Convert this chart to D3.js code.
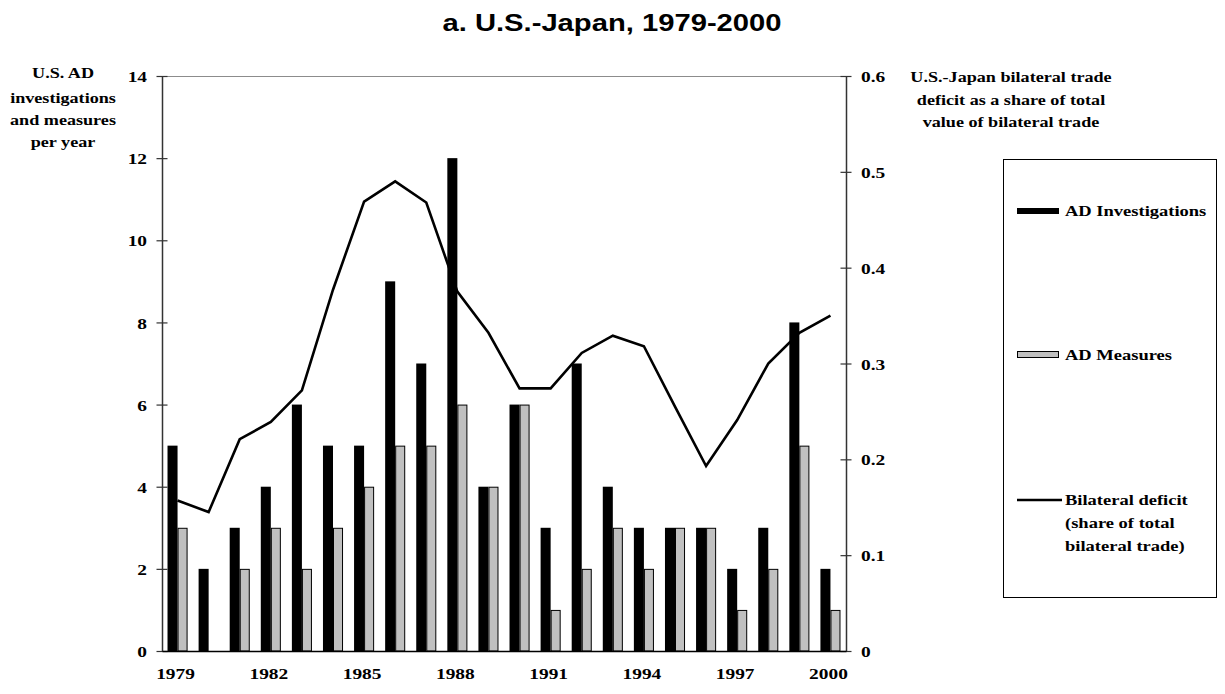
<!DOCTYPE html>
<html>
<head>
<meta charset="utf-8">
<script src="https://cdn.jsdelivr.net/npm/d3@7"></script>
<style>
  body { margin: 0; background: #fff; }
  svg { display: block; }
</style>
</head>
<body>
<div id="chart"></div>
<script>

// DATA

var years = [1979, 1980, 1981, 1982, 1983, 1984, 1985, 1986, 1987, 1988, 1989,
             1990, 1991, 1992, 1993, 1994, 1995, 1996, 1997, 1998, 1999, 2000];
var yearLabels = [1979, 1982, 1985, 1988, 1991, 1994, 1997, 2000];
var investigations = [5, 2, 3, 4, 6, 5, 5, 9, 7, 12, 4, 6, 3, 7, 4, 3, 3, 3, 2, 3, 8, 2];
var measures = [3, 0, 2, 3, 2, 3, 4, 5, 5, 6, 4, 6, 1, 2, 3, 2, 3, 3, 1, 2, 5, 1];
var deficitShare = [0.157, 0.145, 0.221, 0.239, 0.272, 0.377, 0.469, 0.490, 0.468, 0.375, 0.332,
                    0.274, 0.274, 0.311, 0.329, 0.318, 0.255, 0.193, 0.241, 0.300, 0.332, 0.350];
var leftTicks = [0, 2, 4, 6, 8, 10, 12, 14];
var rightTicks = [0, 0.1, 0.2, 0.3, 0.4, 0.5, 0.6];
var seriesNames = ['AD Investigations', 'AD Measures'];

var W = 1225, H = 694;
var plot = { left: 162, right: 846, top: 76, bottom: 651 };
var SERIF = "'Liberation Serif', 'Times New Roman', serif";
var SX = 1.25; // the reference text is drawn horizontally stretched

var svg = d3.select('#chart')
  .append('svg')
    .attr('width', W)
    .attr('height', H);

// SCALES

var x = d3.scaleBand()
  .domain(years)
  .range([plot.left, plot.right])
  .padding(0);

var xInner = d3.scaleBand()
  .domain(seriesNames)
  .range([0, x.bandwidth()])
  .paddingInner(0)
  .paddingOuter(0.55);

var yL = d3.scaleLinear().domain([0, 14]).range([plot.bottom, plot.top]);
var yR = d3.scaleLinear().domain([0, 0.6]).range([plot.bottom, plot.top]);

function stretched(g, px, py, str, anchor) {
  return g.append('text')
    .attr('transform', 'translate(' + px + ',' + py + ') scale(' + SX + ',1)')
    .attr('text-anchor', anchor || 'middle')
    .text(str);
}

// TITLE

svg.append('text')
  .attr('transform', 'translate(612,31) scale(1.27,1)')
  .attr('text-anchor', 'middle')
  .attr('font-family', "'Liberation Sans', Arial, sans-serif")
  .attr('font-weight', 'bold')
  .attr('font-size', 23)
  .text('a. U.S.-Japan, 1979-2000');

// PLOT FRAME

svg.append('line')
  .attr('x1', plot.left).attr('x2', plot.right)
  .attr('y1', plot.top + 0.5).attr('y2', plot.top + 0.5)
  .attr('stroke', '#8c8c8c')
  .attr('stroke-width', 1);

// BARS

var bars = svg.append('g');

bars.selectAll('rect.inv')
  .data(years.map(function(yr, i) { return { year: yr, v: investigations[i] }; }))
  .enter().append('rect')
    .attr('class', 'inv')
    .attr('x', function(d) { return x(d.year) + xInner(seriesNames[0]); })
    .attr('width', xInner.bandwidth())
    .attr('y', function(d) { return yL(d.v); })
    .attr('height', function(d) { return yL(0) - yL(d.v); })
    .attr('fill', '#000');

bars.selectAll('rect.meas')
  .data(years.map(function(yr, i) { return { year: yr, v: measures[i] }; })
    .filter(function(d) { return d.v > 0; }))
  .enter().append('rect')
    .attr('class', 'meas')
    .attr('x', function(d) { return x(d.year) + xInner(seriesNames[1]) + 0.5; })
    .attr('width', xInner.bandwidth() - 1)
    .attr('y', function(d) { return yL(d.v) + 0.5; })
    .attr('height', function(d) { return yL(0) - yL(d.v) - 0.5; })
    .attr('fill', '#c0c0c0')
    .attr('stroke', '#000')
    .attr('stroke-width', 1);

// LINE

var line = d3.line()
  .x(function(d, i) { return x(years[i]) + x.bandwidth() / 2; })
  .y(function(d) { return yR(d); });

svg.append('path')
  .datum(deficitShare)
  .attr('d', line)
  .attr('fill', 'none')
  .attr('stroke', '#000')
  .attr('stroke-width', 2.6)
  .attr('stroke-linejoin', 'miter');

// AXES

function styleAxis(g, side) {
  g.select('.domain').attr('stroke', '#333').attr('stroke-width', 1.5);
  g.selectAll('.tick line')
    .attr('stroke', '#333')
    .attr('stroke-width', 1.2)
    .attr('x1', -5.5).attr('x2', 5.5);
  g.selectAll('.tick text')
    .attr('x', 0)
    .attr('dy', '0.36em')
    .attr('font-family', SERIF)
    .attr('font-weight', 'bold')
    .attr('font-size', 15.5)
    .attr('fill', '#000')
    .attr('text-anchor', side == 'left' ? 'end' : 'start')
    .attr('transform', 'translate(' + (side == 'left' ? -15 : 15) + ',0) scale(' + SX + ',1)');
}

var gL = svg.append('g')
  .attr('transform', 'translate(' + plot.left + ',0)')
  .call(d3.axisLeft(yL).tickValues(leftTicks).tickSizeOuter(0).tickFormat(d3.format('d')));
styleAxis(gL, 'left');

var gR = svg.append('g')
  .attr('transform', 'translate(' + plot.right + ',0)')
  .call(d3.axisRight(yR).tickValues(rightTicks).tickSizeOuter(0)
    .tickFormat(function(d) { return d === 0 ? '0' : d3.format('.1f')(d); }));
styleAxis(gR, 'right');

var gX = svg.append('g')
  .attr('transform', 'translate(0,' + plot.bottom + ')')
  .call(d3.axisBottom(x).tickValues(yearLabels).tickSize(0).tickSizeOuter(0));
gX.select('.domain').attr('stroke', '#000').attr('stroke-width', 1.5);
gX.selectAll('.tick text')
  .attr('y', 0)
  .attr('dy', 0)
  .attr('font-family', SERIF)
  .attr('font-weight', 'bold')
  .attr('font-size', 15.5)
  .attr('fill', '#000')
  .attr('transform', 'translate(-2,28) scale(' + SX + ',1)');

// AXIS TITLES

var titles = svg.append('g')
  .attr('font-family', SERIF)
  .attr('font-weight', 'bold')
  .attr('font-size', 14.5)
  .attr('fill', '#000');

['U.S. AD', 'investigations', 'and measures', 'per year'].forEach(function(t, i) {
  stretched(titles, 63, [78, 103, 125, 147][i], t);
});

['U.S.-Japan bilateral trade', 'deficit as a share of total', 'value of bilateral trade'].forEach(function(t, i) {
  stretched(titles, 1011, [82, 105, 127][i], t);
});

// LEGEND

var legend = svg.append('g')
  .attr('font-family', SERIF)
  .attr('font-weight', 'bold')
  .attr('font-size', 14.8);

legend.append('rect')
  .attr('x', 1003.5).attr('y', 159.5)
  .attr('width', 213).attr('height', 438)
  .attr('fill', '#fff')
  .attr('stroke', '#000')
  .attr('stroke-width', 1);

legend.append('rect')
  .attr('x', 1017).attr('y', 208)
  .attr('width', 42).attr('height', 6)
  .attr('fill', '#000');
stretched(legend, 1065, 216, seriesNames[0], 'start');

legend.append('rect')
  .attr('x', 1017.5).attr('y', 351.5)
  .attr('width', 41).attr('height', 6)
  .attr('fill', '#c0c0c0')
  .attr('stroke', '#000')
  .attr('stroke-width', 1);
stretched(legend, 1065, 360, seriesNames[1], 'start');

legend.append('line')
  .attr('x1', 1017).attr('x2', 1062)
  .attr('y1', 500).attr('y2', 500)
  .attr('stroke', '#000')
  .attr('stroke-width', 2.6);
['Bilateral deficit', '(share of total', 'bilateral trade)'].forEach(function(t, i) {
  stretched(legend, 1065, [505, 528, 551][i], t, 'start');
});

</script>
</body>
</html>
